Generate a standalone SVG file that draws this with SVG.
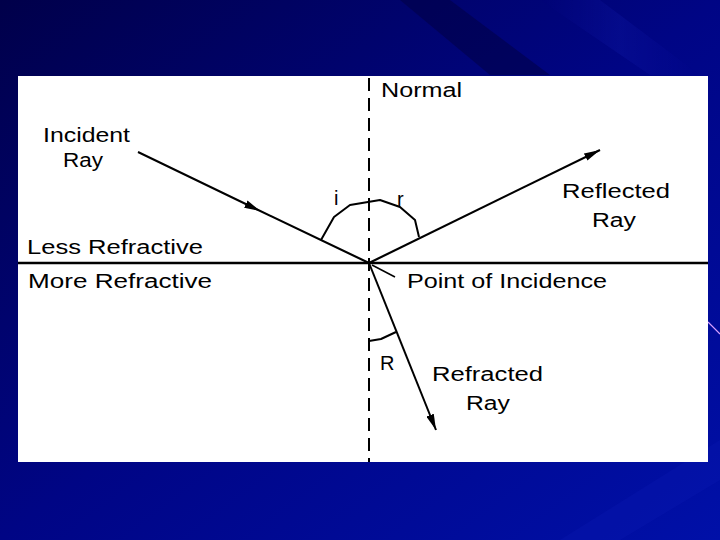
<svg xmlns="http://www.w3.org/2000/svg" width="720" height="540" viewBox="0 0 720 540">
  <defs>
    <linearGradient id="bg" x1="0" y1="0" x2="1" y2="1">
      <stop offset="0" stop-color="#00004a"/>
      <stop offset="0.5" stop-color="#000585"/>
      <stop offset="1" stop-color="#0010a8"/>
    </linearGradient>
    <linearGradient id="streak" x1="0" y1="0" x2="1" y2="0">
      <stop offset="0" stop-color="#2030d0" stop-opacity="0"/>
      <stop offset="0.5" stop-color="#2030d0" stop-opacity="0.3"/>
      <stop offset="1" stop-color="#2030d0" stop-opacity="0"/>
    </linearGradient>
    <marker id="arrow" viewBox="0 0 16 8" refX="16" refY="4" markerWidth="16" markerHeight="8" orient="auto" markerUnits="userSpaceOnUse">
      <path d="M0,0 L16,4 L0,8 z" fill="#000"/>
    </marker>
    <marker id="midarrow" viewBox="0 0 16 8" refX="8" refY="4" markerWidth="16" markerHeight="8" orient="auto" markerUnits="userSpaceOnUse">
      <path d="M0,0 L16,4 L0,8 z" fill="#000"/>
    </marker>
  </defs>
  <style>
    text { font-family: "Liberation Sans", Arial, sans-serif; font-size: 20px; fill: #000; }
    .ray { stroke: #000; stroke-width: 2; fill: none; }
    .arc { stroke: #000; stroke-width: 2; fill: none; stroke-linejoin: round; }
  </style>

  <!-- background -->
  <rect x="0" y="0" width="720" height="540" fill="url(#bg)"/>
  <g opacity="0.5">
    <polygon points="400,0 450,0 550,75 490,75" fill="#000040"/>
    <polygon points="540,0 600,0 700,75 650,75" fill="url(#streak)"/>
    <polygon points="560,540 720,440 720,480 620,540" fill="#1828c0" opacity="0.3"/>
  </g>
  <line x1="708" y1="322" x2="720" y2="334" stroke="#d8a0ff" stroke-width="1.2"/>

  <!-- white panel -->
  <rect id="panel" x="18" y="76" width="690" height="386" fill="#fff"/>

  <!-- connectors -->
  <g id="connectors">
    <line id="normal" x1="369" y1="78" x2="369" y2="462" stroke="#000" stroke-width="2" stroke-dasharray="13,7"/>
    <line id="interface" x1="18" y1="263" x2="708" y2="263" stroke="#000" stroke-width="2.5"/>
    <polyline id="incident" class="ray" points="138,152 253,207.5 369,263" marker-mid="url(#midarrow)"/>
    <line id="reflected" class="ray" x1="369" y1="263" x2="600" y2="150" marker-end="url(#arrow)"/>
    <line id="refracted" class="ray" x1="369" y1="263" x2="436" y2="430" marker-end="url(#arrow)"/>
    <polyline id="arc-ir" class="arc" points="321,240 334,217 350,205 368,202 380,200 400,207 415,220 419,237"/>
    <polyline id="arc-R" class="arc" points="369,341 381,339 396,332"/>
    <line id="pointer" x1="372" y1="265" x2="395" y2="277" stroke="#000" stroke-width="1.5"/>
  </g>

  <!-- labels -->
  <g id="label-normal"><text x="381" y="97" textLength="81" lengthAdjust="spacingAndGlyphs">Normal</text></g>
  <g id="label-incident">
    <text x="43" y="142" textLength="87" lengthAdjust="spacingAndGlyphs">Incident</text>
    <text x="63" y="167" textLength="40" lengthAdjust="spacingAndGlyphs">Ray</text>
  </g>
  <g id="label-less"><text x="27" y="254" textLength="176" lengthAdjust="spacingAndGlyphs">Less Refractive</text></g>
  <g id="label-more"><text x="28" y="288" textLength="184" lengthAdjust="spacingAndGlyphs">More Refractive</text></g>
  <g id="label-point"><text x="407" y="288" textLength="200" lengthAdjust="spacingAndGlyphs">Point of Incidence</text></g>
  <g id="label-reflected">
    <text x="562" y="198" textLength="108" lengthAdjust="spacingAndGlyphs">Reflected</text>
    <text x="592" y="227" textLength="44" lengthAdjust="spacingAndGlyphs">Ray</text>
  </g>
  <g id="label-refracted">
    <text x="432" y="381" textLength="111" lengthAdjust="spacingAndGlyphs">Refracted</text>
    <text x="466" y="410" textLength="44" lengthAdjust="spacingAndGlyphs">Ray</text>
  </g>
  <g id="label-i"><text x="334" y="205">i</text></g>
  <g id="label-r"><text x="397" y="206">r</text></g>
  <g id="label-R"><text x="380" y="370">R</text></g>
</svg>
